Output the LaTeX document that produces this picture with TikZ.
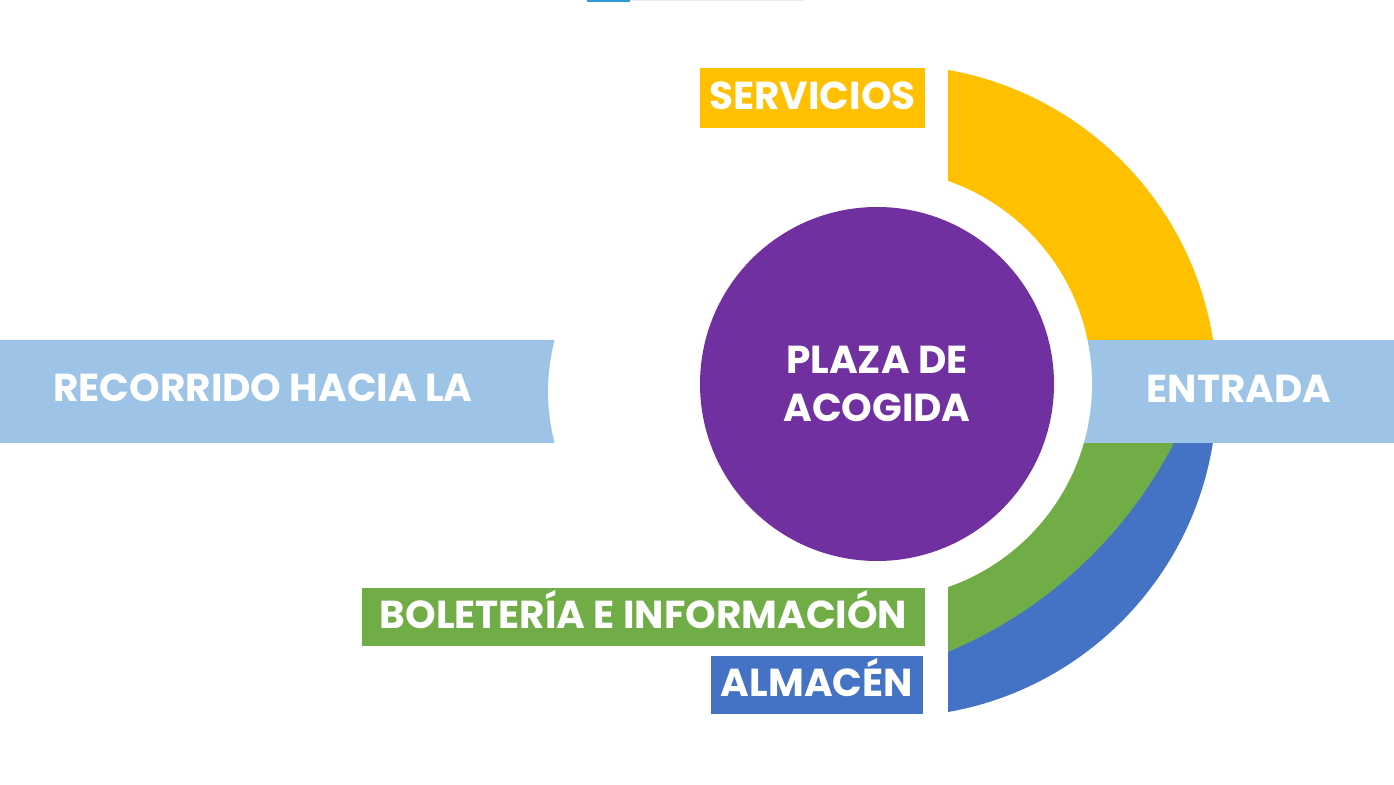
\documentclass[tikz,border=0pt]{standalone}
\usepackage{fontspec}
\usepackage{tikz}
\newfontfamily\lblfont{Poppins}
\definecolor{ylw}{HTML}{FFC000}
\definecolor{grn}{HTML}{70AD47}
\definecolor{blu}{HTML}{4472C4}
\definecolor{pur}{HTML}{7030A0}
\definecolor{cel}{HTML}{9DC3E6}

\begin{document}
\begin{tikzpicture}[x=1pt,y=1pt,
  txt/.style={text=white,inner sep=0pt,text height=27.5pt,text depth=0pt,font=\lblfont\bfseries\fontsize{39}{48.5}\selectfont},
  tag/.style={txt,text depth=5pt,minimum height=58pt}]
  \useasboundingbox (0,0) rectangle (1394,784);
  \coordinate (C) at (877,400);
  \coordinate (O) at (891,393);
  \coordinate (G) at (774.5,546.4);
  \fill[blu!70!cyan] (587,782.3) rectangle (630,784);
  \fill[black!8] (630,783) rectangle (805,784);
  \begin{scope}
    \clip (948,0) rectangle (1394,341);
    \fill[blu] (O) circle[radius=326];
    \fill[grn] (G) circle[radius=449];
  \end{scope}
  \begin{scope}
    \clip (948,444) rectangle (1394,784);
    \fill[ylw] (O) circle[radius=326];
  \end{scope}
  \fill[cel] (1000,341) rectangle (1394,444);
  \fill[cel] (0,341) -- (554.6,341) arc[start angle=194.55,end angle=165.45,radius=205] -- (0,444) -- cycle;
  \fill[white] (C) circle[radius=215];
  \node[circle,fill=pur,minimum size=354pt,inner sep=0pt,text=white,align=center,font=\lblfont\bfseries\fontsize{39}{48.5}\selectfont] (plaza) at (C) {PLAZA DE\\ACOGIDA};
  \node[txt] (rec) at (263,396) {RECORRIDO HACIA LA};
  \node[txt] (ent) at (1239,395) {ENTRADA};
  \node[tag,fill=ylw,minimum width=225pt,minimum height=60pt] (serv) at (812.5,686) {SERVICIOS};
  \node[tag,fill=grn,minimum width=563pt] (bol) at (643.5,167) {BOLETERÍA E INFORMACIÓN};
  \node[tag,fill=blu,minimum width=212pt] (alm) at (817,99) {ALMACÉN};
\end{tikzpicture}
\end{document}
